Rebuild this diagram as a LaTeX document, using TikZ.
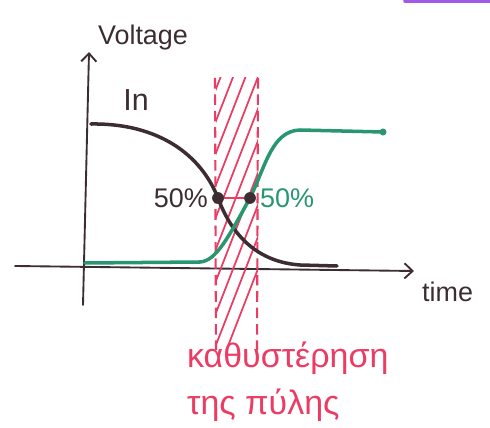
\documentclass[tikz,border=0pt]{standalone}
\usepackage{fontspec}
\setmainfont{Liberation Sans}
\usepackage{tikz}
\usetikzlibrary{arrows.meta}

\definecolor{penblack}{RGB}{60,45,50}
\definecolor{pengreen}{RGB}{40,150,110}
\definecolor{penred}{RGB}{235,60,100}
\definecolor{penviolet}{RGB}{160,90,230}

\begin{document}
\begin{tikzpicture}[x=0.03cm,y=-0.03cm,>={Straight Barb[length=7pt,width=13pt]}]
  \tikzset{
    axis/.style={->,penblack,line width=1.6pt,line cap=round},
    sig/.style={line width=3pt,line cap=round},
    band/.style={penred,line width=1.8pt,dash pattern=on 9pt off 5pt},
    hatch/.style={penred,line width=1.5pt},
    dot/.style={circle,fill=penblack,inner sep=0pt,minimum size=10pt},
    lbl/.style={font=\fontsize{23}{26}\selectfont}
  }
  \useasboundingbox (0,0) rectangle (490,428);

  % stray pen stroke at the top edge
  \draw[penviolet,line width=3pt,line cap=round] (405,1) -- (492,1);

  % axes
  \coordinate (yfoot) at (83,305);
  \coordinate (ytop) at (89,52);
  \coordinate (xfoot) at (15,266);
  \coordinate (xtop) at (414,271);
  \draw[axis] (yfoot) -- (ytop);
  \draw[axis] (xfoot) -- (xtop);
  \node[lbl,penblack] (vlab) at (143,38) {Voltage};
  \node[lbl,penblack,anchor=west] (tlab) at (418,292) {time};

  % delay band
  \begin{scope}
    \clip (216,78) rectangle (258,350);
    \foreach \k in {0,...,9}
      \draw[hatch] (200,130+32*\k) -- (270,-50+32*\k);
  \end{scope}
  \draw[band] (215,78) -- (216,350);
  \draw[band] (258,78) -- (257,350);

  % input and output
  \draw[sig,penblack] (91,124) .. controls (150,123) and (198,148) .. (218,198)
    .. controls (232,236) and (258,262) .. (300,265) -- (337,266);
  \draw[sig,pengreen] (85,263) -- (200,262) .. controls (216,261) and (228,238) .. (250,198)
    .. controls (266,165) and (272,131) .. (300,130) -- (383,132);
  \node[circle,fill=pengreen,inner sep=0pt,minimum size=6pt] (gend) at (383,132) {};
  \node[lbl,penblack,font=\fontsize{26}{30}\selectfont] (inlab) at (136,100) {In};

  % 50% points
  \node[dot] (pin) at (218,198) {};
  \node[dot] (pout) at (250,198) {};
  \draw[penred,line width=2.2pt] (pin) -- (pout);
  \node[lbl,penblack,anchor=east] (pinlab) at (pin.west) {50\%};
  \node[lbl,pengreen,anchor=west] (poutlab) at (pout.east) {50\%};

  % delay label
  \node[penred,align=left,anchor=north west,font=\fontsize{29}{40}\selectfont]
    (dlab) at (183,338) {καθυστέρηση\\της πύλης};
\end{tikzpicture}
\end{document}
